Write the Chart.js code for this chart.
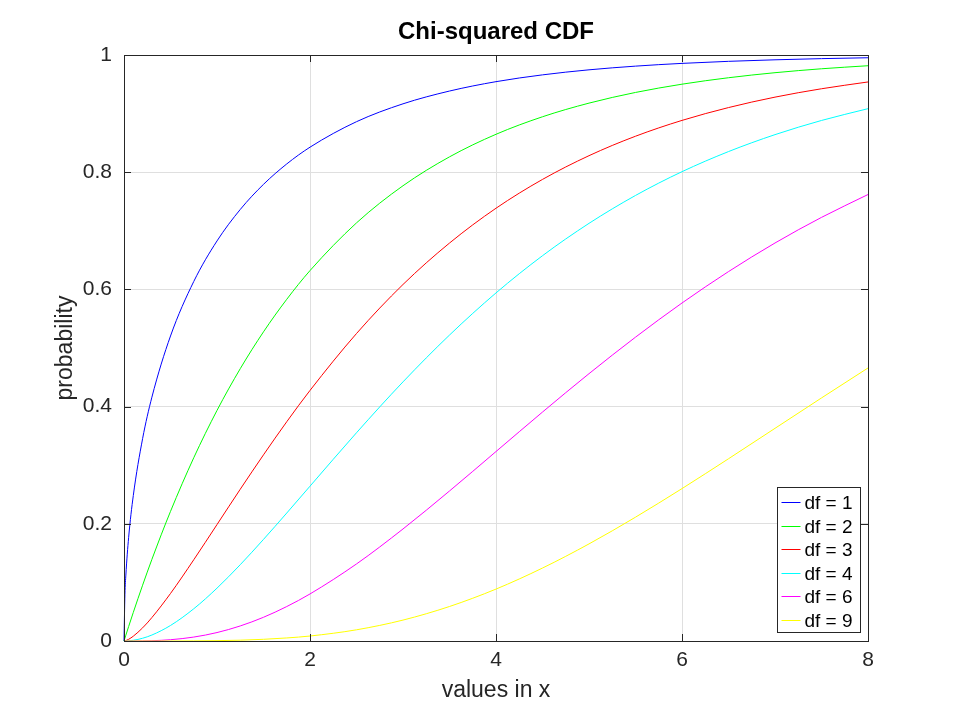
<!DOCTYPE html>
<html>
<head>
<meta charset="utf-8">
<title>Chi-squared CDF</title>
<script src="https://cdn.jsdelivr.net/npm/chart.js@4/dist/chart.umd.min.js"></script>
<style>
  html, body { margin: 0; padding: 0; background: #fff; }
  #wrap { width: 960px; height: 720px; }
</style>
</head>
<body>
<div id="wrap"><canvas id="cdfChart" width="960" height="720"></canvas></div>
<script>
// values
const xValues = [0, 0.01, 0.02, 0.05, 0.1, 0.2, 0.3, 0.5, 0.75, 1, 1.25, 1.5, 1.75, 2, 2.5, 3, 3.5, 4, 4.5, 5, 5.5, 6, 6.5, 7, 7.5, 8];
const df1 = [0, 0.0797, 0.1125, 0.1769, 0.2482, 0.3453, 0.4161, 0.5205, 0.6135, 0.6827, 0.7364, 0.7793, 0.8141, 0.8427, 0.8862, 0.9167, 0.9385, 0.9545, 0.9661, 0.9747, 0.9810, 0.9857, 0.9892, 0.9918, 0.9938, 0.9953];
const df2 = [0, 0.0050, 0.0100, 0.0247, 0.0488, 0.0952, 0.1393, 0.2212, 0.3127, 0.3935, 0.4647, 0.5276, 0.5831, 0.6321, 0.7135, 0.7769, 0.8262, 0.8647, 0.8946, 0.9179, 0.9361, 0.9502, 0.9612, 0.9698, 0.9765, 0.9817];
const df3 = [0, 0.0003, 0.0007, 0.0029, 0.0082, 0.0224, 0.0400, 0.0811, 0.1386, 0.1987, 0.2590, 0.3177, 0.3742, 0.4276, 0.5247, 0.6084, 0.6791, 0.7385, 0.7877, 0.8282, 0.8614, 0.8884, 0.9103, 0.9281, 0.9424, 0.9540];
const df4 = [0, 0, 0, 0.0003, 0.0012, 0.0047, 0.0102, 0.0265, 0.0550, 0.0902, 0.1302, 0.1734, 0.2184, 0.2642, 0.3554, 0.4422, 0.5221, 0.5940, 0.6575, 0.7127, 0.7603, 0.8009, 0.8352, 0.8641, 0.8883, 0.9084];
const df6 = [0, 0, 0, 0, 0, 0.0002, 0.0005, 0.0022, 0.0067, 0.0144, 0.0257, 0.0405, 0.0588, 0.0803, 0.1315, 0.1912, 0.2560, 0.3233, 0.3907, 0.4562, 0.5185, 0.5768, 0.6304, 0.6792, 0.7229, 0.7619];
const df9 = [0, 0, 0, 0, 0, 0, 0, 0, 0.0002, 0.0006, 0.0014, 0.0029, 0.0052, 0.0085, 0.0191, 0.0357, 0.0589, 0.0886, 0.1245, 0.1657, 0.2113, 0.2601, 0.3110, 0.3629, 0.4148, 0.4659];

const seriesLabels = ['df = 1', 'df = 2', 'df = 3', 'df = 4', 'df = 6', 'df = 9'];
const seriesValues = [df1, df2, df3, df4, df6, df9];
const seriesColors = ['#0000ff', '#00ff00', '#ff0000', '#00ffff', '#ff00ff', '#ffff00'];

const xTicks = [0, 2, 4, 6, 8];
const yTicks = [0, 0.2, 0.4, 0.6, 0.8, 1];

const FONT = '"Liberation Sans", Arial, Helvetica, sans-serif';
const TEXT = '#262626';

// title centred over the axes box, like octave does
const titlePlugin = {
  id: 'axesTitle',
  afterDraw(chart) {
    const { ctx, chartArea } = chart;
    ctx.save();
    ctx.font = 'bold 24px ' + FONT;
    ctx.fillStyle = '#000';
    ctx.textAlign = 'center';
    ctx.textBaseline = 'alphabetic';
    ctx.fillText('Chi-squared CDF', (chartArea.left + chartArea.right) / 2, 39);
    ctx.restore();
  }
};

// closed box + inward tick marks on all four sides
const boxPlugin = {
  id: 'axesBox',
  afterDatasetsDraw(chart) {
    const { ctx, chartArea, scales } = chart;
    const { left, right, top, bottom } = chartArea;
    const len = 7;
    ctx.save();
    ctx.strokeStyle = '#262626';
    ctx.lineWidth = 1;
    ctx.beginPath();
    xTicks.forEach((v) => {
      const px = Math.round(scales.x.getPixelForValue(v)) + 0.5;
      ctx.moveTo(px, bottom);
      ctx.lineTo(px, bottom - len);
      ctx.moveTo(px, top);
      ctx.lineTo(px, top + len);
    });
    yTicks.forEach((v) => {
      const py = Math.round(scales.y.getPixelForValue(v)) + 0.5;
      ctx.moveTo(left, py);
      ctx.lineTo(left + len, py);
      ctx.moveTo(right, py);
      ctx.lineTo(right - len, py);
    });
    ctx.stroke();
    ctx.strokeRect(Math.round(left) + 0.5, Math.round(top) + 0.5, Math.round(right - left), Math.round(bottom - top));
    ctx.restore();
  }
};

// legend box in the lower right corner of the axes
const legendPlugin = {
  id: 'cornerLegend',
  afterDraw(chart) {
    const { ctx, chartArea } = chart;
    const w = 83;
    const h = 145;
    const x0 = Math.round(chartArea.right - 8 - w) + 0.5;
    const y0 = Math.round(chartArea.bottom - 9 - h) + 0.5;
    const rowH = 23.5;
    ctx.save();
    ctx.fillStyle = '#fff';
    ctx.fillRect(x0, y0, w, h);
    ctx.strokeStyle = '#262626';
    ctx.lineWidth = 1;
    ctx.strokeRect(x0, y0, w, h);
    ctx.font = '19px ' + FONT;
    ctx.textBaseline = 'middle';
    ctx.textAlign = 'left';
    chart.data.datasets.forEach((ds, i) => {
      const cy = Math.round(y0 + 14.5 + i * rowH) + 0.5;
      ctx.strokeStyle = ds.borderColor;
      ctx.beginPath();
      ctx.moveTo(x0 + 4, cy);
      ctx.lineTo(x0 + 23, cy);
      ctx.stroke();
      ctx.fillStyle = '#000';
      ctx.fillText(ds.label, x0 + 27, cy + 1);
    });
    ctx.restore();
  }
};

const datasets = seriesLabels.map((label, i) => ({
  label,
  data: xValues.map((x, j) => ({ x, y: seriesValues[i][j] })),
  borderColor: seriesColors[i],
  backgroundColor: seriesColors[i],
  borderWidth: 1,
  pointRadius: 0,
  fill: false,
  cubicInterpolationMode: 'monotone',
  order: seriesLabels.length - i,
  clip: 2
}));

new Chart(document.getElementById('cdfChart'), {
  type: 'line',
  data: { datasets },
  options: {
    responsive: false,
    animation: false,
    devicePixelRatio: 1,
    layout: { padding: { top: 55, right: 92, left: 0, bottom: 0 } },
    plugins: {
      legend: { display: false },
      title: { display: false },
      tooltip: { enabled: false }
    },
    scales: {
      x: {
        type: 'linear',
        min: 0,
        max: 8,
        afterBuildTicks: (scale) => { scale.ticks = xTicks.map((v) => ({ value: v })); },
        afterFit: (scale) => { scale.height = 79; },
        grid: { color: '#dfdfdf', drawTicks: false },
        border: { color: '#262626' },
        ticks: { color: TEXT, font: { family: FONT, size: 21 }, padding: 7, maxRotation: 0 },
        title: { display: true, text: 'values in x', color: TEXT, font: { family: FONT, size: 23 }, padding: { top: 0, bottom: 16 } }
      },
      y: {
        type: 'linear',
        min: 0,
        max: 1,
        afterBuildTicks: (scale) => { scale.ticks = yTicks.map((v) => ({ value: v })); },
        afterFit: (scale) => { scale.width = 124; },
        grid: { color: '#dfdfdf', drawTicks: false },
        border: { color: '#262626' },
        ticks: {
          color: TEXT,
          font: { family: FONT, size: 21 },
          padding: 12,
          callback: (value) => String(Number(value.toFixed(2)))
        },
        title: { display: true, text: 'probability', color: TEXT, font: { family: FONT, size: 23 }, padding: { top: 52, bottom: 0 } }
      }
    }
  },
  plugins: [titlePlugin, boxPlugin, legendPlugin]
});
</script>
</body>
</html>
